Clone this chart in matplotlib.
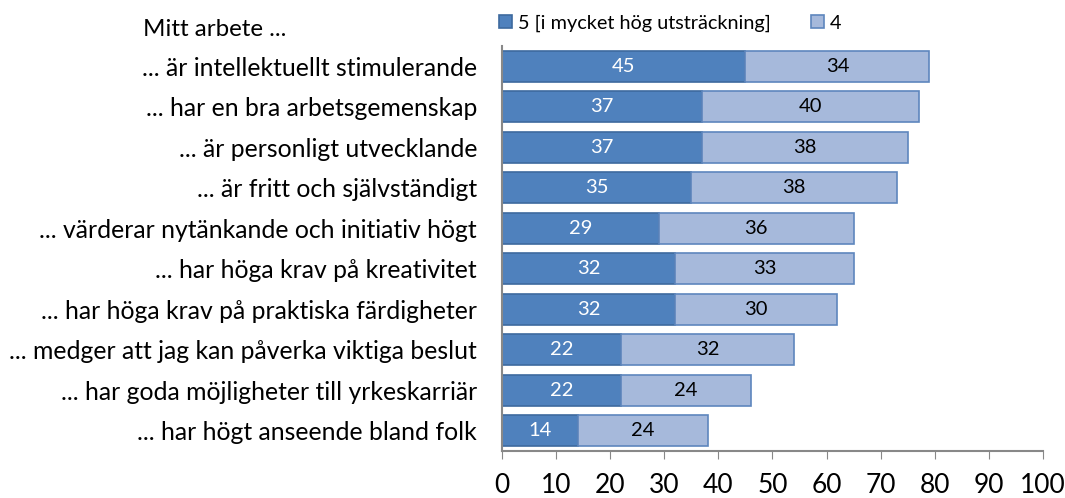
import numpy as np
import matplotlib.pyplot as plt

plt.rcParams['font.family'] = ['Lato', 'DejaVu Sans']

categories = [
    "... är intellektuellt stimulerande",
    "... har en bra arbetsgemenskap",
    "... är personligt utvecklande",
    "... är fritt och självständigt",
    "... värderar nytänkande och initiativ högt",
    "... har höga krav på kreativitet",
    "... har höga krav på praktiska färdigheter",
    "... medger att jag kan påverka viktiga beslut",
    "... har goda möjligheter till yrkeskarriär",
    "... har högt anseende bland folk",
]
val5 = [45, 37, 37, 35, 29, 32, 32, 22, 22, 14]
val4 = [34, 40, 38, 38, 36, 33, 30, 32, 24, 24]
series_names = ["5 [i mycket hög utsträckning]", "4"]
header = "Mitt arbete ..."

dark = '#4F81BD'
light = '#A6B9DB'

fig = plt.figure(figsize=(10.65, 4.98), dpi=100)
ax = fig.add_axes([0.4714, 0.0944, 0.9793 - 0.4714, 0.9076 - 0.0944])

y = np.arange(len(categories))
b5 = ax.barh(y, val5, height=0.76, color=dark, edgecolor='#3D6A9E', linewidth=1.2,
             label=series_names[0])
b4 = ax.barh(y, val4, left=val5, height=0.76, color=light, edgecolor='#5E86BD',
             linewidth=1.2, label=series_names[1])

for yi, a, b in zip(y, val5, val4):
    ax.text(a / 2, yi, str(a), ha='center', va='center', color='white', fontsize=14.5)
    ax.text(a + b / 2, yi, str(b), ha='center', va='center', color='black', fontsize=14.5)

ax.set_ylim(len(categories) - 0.5, -0.5)
ax.set_xlim(0, 100)
ax.set_xticks(np.arange(0, 101, 10))
ax.tick_params(axis='x', labelsize=19, length=6, color='#888888', pad=10)
ax.set_yticks(y)
ax.set_yticklabels(categories, fontsize=17.8)
ax.tick_params(axis='y', length=0, pad=18)

for s in ['top', 'right']:
    ax.spines[s].set_visible(False)
for s in ['left', 'bottom']:
    ax.spines[s].set_color('#888888')
    ax.spines[s].set_linewidth(1.5)

fig.text(143 / 1065, 1 - 30 / 498, header, fontsize=17.4, ha='left', va='center')

ax.legend(loc='lower left', bbox_to_anchor=(-0.005, 1.035), ncol=2, frameon=False,
          fontsize=14.3, handlelength=0.65, handleheight=0.65, handletextpad=0.3,
          columnspacing=2.0, borderaxespad=0, borderpad=0)

fig.savefig('out.png', dpi=100)
